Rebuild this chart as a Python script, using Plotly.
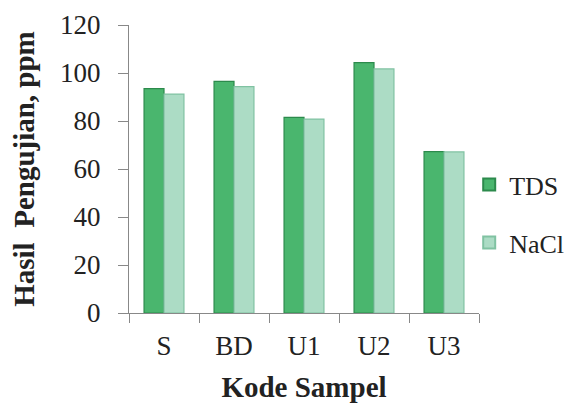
import plotly.graph_objects as go

categories = ["S", "BD", "U1", "U2", "U3"]
tds_values = [93.5, 96.5, 81.5, 104.3, 67.2]
nacl_values = [91.2, 94.3, 80.8, 101.7, 67.1]

font_family = "Liberation Serif"

fig = go.Figure()
fig.add_trace(go.Bar(
    x=categories, y=tds_values, name="TDS", legendgroup="a",
    marker=dict(color="#4ab66e", line=dict(color="#2c8a4c", width=1.2)),
))
fig.add_trace(go.Bar(
    x=categories, y=nacl_values, name="NaCl", legendgroup="b",
    marker=dict(color="#acdcc5", line=dict(color="#80c2a2", width=1.2)),
))

fig.update_layout(
    width=569, height=405,
    margin=dict(l=129, r=90, t=25, b=92, autoexpand=False),
    paper_bgcolor="white", plot_bgcolor="white",
    barmode="group", bargap=0.43, bargroupgap=0,
    font=dict(family=font_family, size=28, color="#222"),
    legend=dict(
        x=0.972, y=0.527, xanchor="left", yanchor="top",
        font=dict(size=26, family=font_family, color="#222"),
        tracegroupgap=21, traceorder="grouped",
        itemsizing="constant", itemwidth=30, bgcolor="rgba(0,0,0,0)",
    ),
    xaxis=dict(
        showline=True, linecolor="#888", linewidth=1,
        ticks="outside", tickson="boundaries", ticklen=9, tickcolor="#888",
        ticklabelstandoff=9,
        tickfont=dict(size=27, family=font_family, color="#222"),
        title=dict(text="<b>Kode Sampel</b>", font=dict(size=29, family=font_family, color="#222"), standoff=16),
        showgrid=False, automargin=False,
    ),
    yaxis=dict(
        range=[0, 120], dtick=20,
        showline=True, linecolor="#888", linewidth=1,
        ticks="outside", ticklen=10, tickcolor="#888",
        ticklabelstandoff=12,
        tickfont=dict(size=27, family=font_family, color="#222"),
        title=dict(text="<b>Hasil&nbsp; Pengujian, ppm</b>", font=dict(size=29, family=font_family, color="#222"), standoff=16),
        showgrid=False, zeroline=False, automargin=False,
    ),
)

fig.write_html("out.html")
